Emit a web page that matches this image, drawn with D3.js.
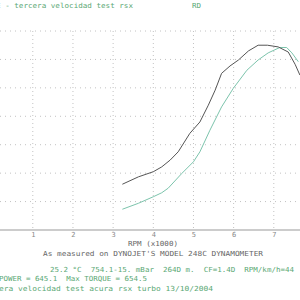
<!DOCTYPE html>
<html>
<head>
<meta charset="utf-8">
<script src="https://cdn.jsdelivr.net/npm/d3@7"></script>
<style>
  body { margin: 0; background: #fff; }
  svg { display: block; }
  text { font-family: "DejaVu Sans Mono", monospace; }
</style>
</head>
<body>
<script>
// rpm (x1000) readings
const rpmTicks = [1, 2, 3, 4, 5, 6, 7]
const gridValues = [100, 200, 300, 400, 500, 600, 700]

const torqueRpm = [3.23, 3.63, 4.0, 4.21, 4.42, 4.62, 4.91, 5.16, 5.37, 5.54, 5.70, 5.91, 6.12, 6.37, 6.61, 6.84, 7.11, 7.36, 7.53, 7.65]
const torqueVal = [161, 187, 205, 222, 246, 275, 340, 380, 439, 492, 551, 577, 598, 630, 650, 650, 644, 626, 583, 545]

const powerRpm = [3.23, 3.63, 4.0, 4.21, 4.37, 4.71, 5.0, 5.16, 5.41, 5.70, 5.99, 6.33, 6.61, 6.86, 7.15, 7.32, 7.45, 7.61]
const powerVal = [73, 94, 117, 131, 147, 199, 240, 275, 351, 433, 498, 562, 598, 623, 642, 642, 623, 592]

const W = 300, H = 300
const green = '#5aa874'

const svg = d3.select("body").append("svg")
    .attr("width", W)
    .attr("height", H)

const x = d3.scaleLinear().domain([1, 7]).range([32.8, 273.8])
const y = d3.scaleLinear().domain([0, 700]).range([230, 31])

// dotted grid
svg.append('g')
    .selectAll('line')
    .data(gridValues)
    .enter()
    .append('line')
    .attr('x1', 0).attr('x2', W)
    .attr('y1', d => y(d)).attr('y2', d => y(d))
    .style('stroke', '#c2c2c2')
    .style('stroke-width', 1)
    .style('stroke-dasharray', '1,4')

svg.append('g')
    .selectAll('line')
    .data(rpmTicks)
    .enter()
    .append('line')
    .attr('x1', d => x(d)).attr('x2', d => x(d))
    .attr('y1', y(700)).attr('y2', y(0))
    .style('stroke', '#c2c2c2')
    .style('stroke-width', 1)
    .style('stroke-dasharray', '1,3')

// x axis
const xAxis = svg.append('g')
    .attr('transform', `translate(0,${y(0)})`)
    .call(d3.axisBottom(x).tickValues(rpmTicks).tickSize(0).tickPadding(2).tickFormat(d3.format('d')))
xAxis.select('.domain').attr('d', `M0,0H${W}`).style('stroke', '#999')
xAxis.selectAll('text')
    .style('font-size', '7px')
    .style('fill', '#888')
    .style('font-family', '"DejaVu Sans Mono", monospace')

// curves
const line = d3.line()
    .x(d => x(d[0]))
    .y(d => y(d[1]))

svg.append('path')
    .datum(d3.zip(powerRpm, powerVal))
    .attr('d', line)
    .style('fill', 'none')
    .style('stroke', '#7cc4ac')
    .style('stroke-width', 1)

svg.append('path')
    .datum(d3.zip(torqueRpm, torqueVal))
    .attr('d', line)
    .style('fill', 'none')
    .style('stroke', '#555')
    .style('stroke-width', 1)

function label(str, tx, ty, len, color){
    const t = svg.append('text')
        .text(str)
        .attr('x', tx)
        .attr('y', ty)
        .attr('xml:space', 'preserve')
        .style('font-size', '7px')
        .style('fill', color)
    if(len){
        t.attr('textLength', len).attr('lengthAdjust', 'spacingAndGlyphs')
    }
    return t
}

label('E - tercera velocidad test rsx', -4, 8, 137, green)
label('RPM (x1000)', 128, 246, 50, '#666')
label("As measured on DYNOJET'S MODEL 248C DYNAMOMETER", 43, 256, 220, '#666')
label('25.2 \u00B0C  754.1-15. mBar  264D m.  CF=1.4D  RPM/km/h=44', 50, 272, 244, green)
label('POWER = 645.1  Max TORQUE = 654.5', -1, 281, 148, green)
label('era velocidad test acura rsx turbo 13/10/2004', -1, 291, 214, green)
label('RD', 192, 8, 9, green)
</script>
</body>
</html>
